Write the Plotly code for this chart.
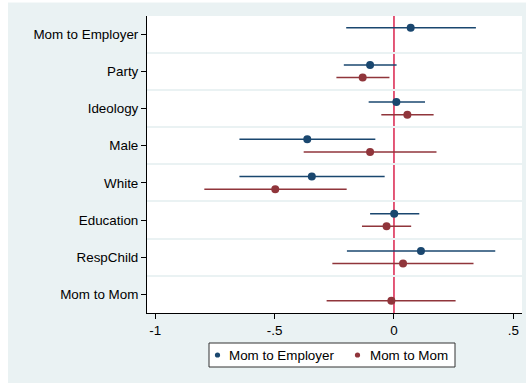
import plotly.graph_objects as go

# Coefficient plot: two models, point estimates with 95% intervals
categories = ["Mom to Employer", "Party", "Ideology", "Male", "White",
              "Education", "RespChild", "Mom to Mom"]

# Model 1: Mom to Employer (no estimate for the "Mom to Mom" term)
emp_coef = [0.070, -0.100, 0.010, -0.363, -0.344, 0.001, 0.113, None]
emp_lo = [-0.200, -0.210, -0.106, -0.647, -0.647, -0.100, -0.197, None]
emp_hi = [0.343, 0.011, 0.130, -0.078, -0.039, 0.106, 0.424, None]

# Model 2: Mom to Mom (no estimate for the "Mom to Employer" term)
mom_coef = [None, -0.131, 0.056, -0.100, -0.497, -0.031, 0.038, -0.011]
mom_lo = [None, -0.241, -0.053, -0.378, -0.794, -0.134, -0.258, -0.282]
mom_hi = [None, -0.019, 0.166, 0.178, -0.198, 0.072, 0.333, 0.258]

x_ticks = [-1, -0.5, 0, 0.5]
x_tick_labels = ["-1", "-.5", "0", ".5"]

series_names = ["Mom to Employer", "Mom to Mom"]

BLUE = "#1A476F"
RED = "#90353B"
BG = "#EAF2F3"
FONT = "Liberation Sans, Arial, sans-serif"
FS = 13.4

# plot-area geometry in pixels, used to place the hand-drawn legend
W, H = 526, 383
ML, MR, MT, MB = 147, 4, 16, 70
PW, PH = W - ML - MR, H - MT - MB


def px_x(px):
    return (px - ML) / PW


def px_y(py):
    return (H - MB - py) / PH


def series(coef, lo, hi, offset):
    xs, ys, plus, minus = [], [], [], []
    for i, (c, l, h) in enumerate(zip(coef, lo, hi)):
        if c is None:
            continue
        xs.append(c)
        ys.append(i + offset)
        plus.append(h - c)
        minus.append(c - l)
    return xs, ys, plus, minus


fig = go.Figure()

for coef, lo, hi, off, col in [
    (emp_coef, emp_lo, emp_hi, -0.17, BLUE),
    (mom_coef, mom_lo, mom_hi, 0.17, RED),
]:
    xs, ys, plus, minus = series(coef, lo, hi, off)
    fig.add_trace(go.Scatter(
        x=xs, y=ys, mode="markers", showlegend=False, hoverinfo="x",
        marker=dict(color=col, size=8),
        error_x=dict(type="data", symmetric=False, array=plus,
                     arrayminus=minus, color=col, thickness=1.5, width=0),
    ))

# reference line at zero
fig.add_vline(x=0, line=dict(color="#E0476B", width=1.8), layer="below")

# white strips at the outer left and top edges
fig.add_shape(type="rect", xref="paper", yref="paper",
              x0=px_x(-5), x1=px_x(8), y0=px_y(H + 5), y1=px_y(-5),
              fillcolor="white", line_width=0, layer="below")
fig.add_shape(type="rect", xref="paper", yref="paper",
              x0=px_x(-5), x1=px_x(W + 5), y0=px_y(2.5), y1=px_y(-5),
              fillcolor="white", line_width=0, layer="below")

# legend: framed box with a dot and a label per series
fig.add_shape(type="rect", xref="paper", yref="paper",
              x0=px_x(209), x1=px_x(455), y0=px_y(367), y1=px_y(343),
              fillcolor="white", line=dict(color="#333333", width=1))
for name, col, dot_x, text_x in [(series_names[0], BLUE, 217.5, 227),
                                 (series_names[1], RED, 357.5, 368)]:
    fig.add_shape(type="circle", xref="paper", yref="paper",
                  xsizemode="pixel", ysizemode="pixel",
                  xanchor=px_x(dot_x), yanchor=px_y(355),
                  x0=-2.6, x1=2.6, y0=-2.6, y1=2.6,
                  fillcolor=col, line_width=0)
    fig.add_annotation(text=name, xref="paper", yref="paper",
                       x=px_x(text_x), y=px_y(355), xanchor="left",
                       yanchor="middle", showarrow=False,
                       font=dict(size=FS, family=FONT, color="black"))

fig.update_layout(
    width=W, height=H,
    margin=dict(l=ML, r=MR, t=MT, b=MB),
    paper_bgcolor=BG, plot_bgcolor="white",
    font=dict(family=FONT, size=FS, color="black"),
    showlegend=False,
    xaxis=dict(range=[-1.034, 0.536], tickvals=x_ticks, ticktext=x_tick_labels,
               showgrid=False, zeroline=False, showline=True, linecolor="black",
               linewidth=1, ticks="outside", ticklen=5, tickcolor="black",
               tickfont=dict(size=FS)),
    yaxis=dict(range=[7.5, -0.484], tickvals=list(range(len(categories))),
               ticktext=categories, showgrid=False, zeroline=False,
               showline=True, linecolor="black", linewidth=1,
               ticks="outside", ticklen=5, tickcolor="black",
               tickfont=dict(size=FS),
               minor=dict(tickvals=[i + 0.5 for i in range(len(categories) - 1)],
                          showgrid=True, gridcolor=BG, gridwidth=1.5,
                          ticks="")),
)

fig.write_html("out.html")
